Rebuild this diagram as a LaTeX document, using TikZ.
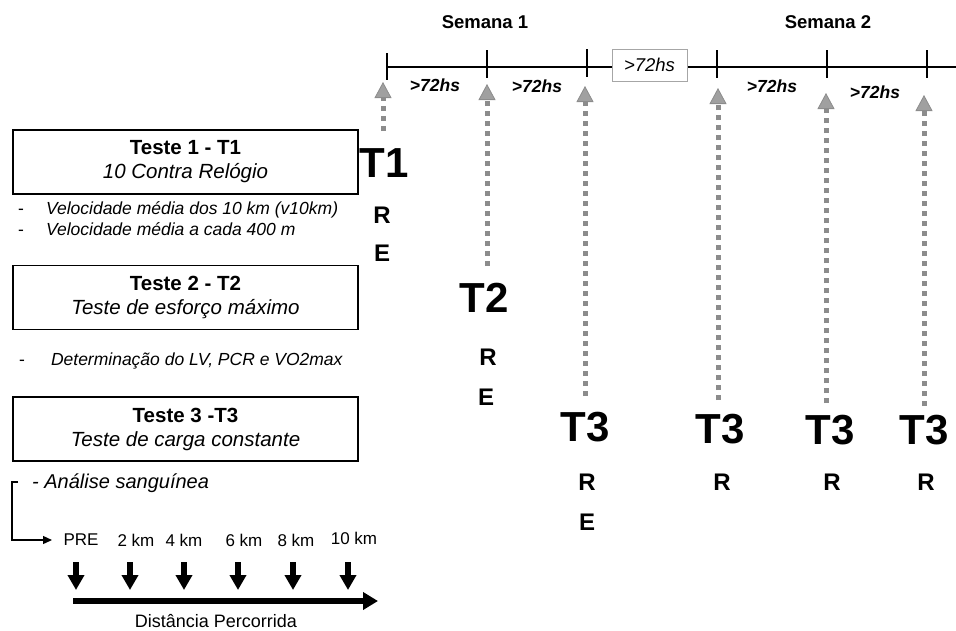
\documentclass[tikz,border=0pt]{standalone}
\usepackage{fontspec}
\setmainfont{Liberation Sans}
\usetikzlibrary{arrows.meta}
\definecolor{dotgray}{RGB}{140,140,140}
\definecolor{headgray}{RGB}{160,160,160}
\begin{document}
\begin{tikzpicture}[x=1pt,y=-1pt,
  tbig/.style={inner sep=0pt, font=\fontsize{42}{46}\selectfont\bfseries},
  rlab/.style={inner sep=0pt, font=\fontsize{24}{28}\selectfont\bfseries},
  hrs/.style={inner sep=0pt, font=\fontsize{17.5}{20}\selectfont\bfseries\itshape},
  week/.style={inner sep=0pt, font=\fontsize{18.5}{22}\selectfont\bfseries},
  testbox/.style={draw, line width=1.6pt, minimum width=345pt, minimum height=64pt, inner sep=0pt, align=center, font=\fontsize{20.5}{24}\selectfont},
  bullet/.style={inner sep=0pt, anchor=west, font=\fontsize{17.5}{20}\selectfont\itshape},
  km/.style={inner sep=0pt, font=\fontsize{17}{20}\selectfont},
  vdots/.style={dotgray, line width=5pt, dash pattern=on 5pt off 5pt, -{Triangle[width=17pt,length=16pt,line width=0.8pt,fill=headgray]}},
  tickmark/.style={line width=1.8pt},
  downarrow/.style={line width=5.5pt, -{Triangle[width=16pt,length=15pt]}},
]
\useasboundingbox (0,0) rectangle (956,630);

% weeks
\node[week] (sem1) at (485,22) {Semana 1};
\node[week] (sem2) at (828,22) {Semana 2};

% timeline
\coordinate (tlstart) at (387,67);
\coordinate (tlend) at (956,67);
\draw[line width=1.8pt] (tlstart) -- (tlend);
\coordinate (k1a) at (387,53); \coordinate (k1b) at (387,80);
\coordinate (k2a) at (487,50); \coordinate (k2b) at (487,78);
\coordinate (k3a) at (587,49); \coordinate (k3b) at (587,77);
\coordinate (k4a) at (717,50); \coordinate (k4b) at (717,78);
\coordinate (k5a) at (827,50); \coordinate (k5b) at (827,78);
\coordinate (k6a) at (927,50); \coordinate (k6b) at (927,78);
\foreach \k in {1,...,6} \draw[tickmark] (k\k a) -- (k\k b);

\node[hrs] (h1) at (435,85) {>72hs};
\node[hrs] (h2) at (537,86) {>72hs};
\node[draw=gray!70, line width=0.8pt, fill=white, minimum width=75pt, minimum height=32pt, inner sep=0pt,
      font=\fontsize{18.5}{22}\selectfont\itshape] (h3) at (649.5,65) {>72hs};
\node[hrs] (h4) at (772,86) {>72hs};
\node[hrs] (h5) at (875,92) {>72hs};

% test labels
\node[tbig] (t1) at (384,163) {T1};
\node[tbig] (t2) at (484,298) {T2};
\node[tbig] (t3a) at (585,427) {T3};
\node[tbig] (t3b) at (720,429) {T3};
\node[tbig] (t3c) at (830,430) {T3};
\node[tbig] (t3d) at (924,430) {T3};

\node[rlab] (r1) at (382,215) {R};
\node[rlab] (e1) at (382,253) {E};
\node[rlab] (r2) at (488,357) {R};
\node[rlab] (e2) at (486,397) {E};
\node[rlab] (r3a) at (587,482) {R};
\node[rlab] (e3a) at (587,522) {E};
\node[rlab] (r3b) at (722,482) {R};
\node[rlab] (r3c) at (832,482) {R};
\node[rlab] (r3d) at (926,482) {R};

% dotted arrows
\coordinate (a1b) at (383,131); \coordinate (a1t) at (383,82);
\coordinate (a2b) at (487,266); \coordinate (a2t) at (487,84);
\coordinate (a3b) at (585,396); \coordinate (a3t) at (585,86);
\coordinate (a4b) at (718,400); \coordinate (a4t) at (718,88);
\coordinate (a5b) at (826,403); \coordinate (a5t) at (826,93);
\coordinate (a6b) at (924,406); \coordinate (a6t) at (924,95);
\foreach \a in {1,...,6} \draw[vdots] (a\a b) -- (a\a t);

% left boxes
\node[testbox] (box1) at (185.5,162) {{\bfseries Teste 1 - T1}\\{\itshape 10 Contra Relógio}};
\node[bullet] (b1) at (18,210) {{\upshape -}\hspace{22pt}Velocidade média dos 10 km (v10km)};
\node[bullet] (b2) at (18,229) {{\upshape -}\hspace{22pt}Velocidade média a cada 400 m};

\node[testbox] (box2) at (185.5,297.5) {{\bfseries Teste 2 - T2}\\{\itshape Teste de esforço máximo}};
\node[bullet] (b3) at (19,361) {{\upshape -}\hspace{26pt}Determinação do LV, PCR e VO2max};

\node[testbox] (box3) at (185.5,429) {{\bfseries Teste 3 -T3}\\{\itshape Teste de carga constante}};

\node[inner sep=0pt, anchor=west, font=\fontsize{20}{24}\selectfont\itshape] (blood) at (32,483) {- Análise sanguínea};

% bracket
\coordinate (br0) at (18,482);
\coordinate (br1) at (12,482);
\coordinate (br2) at (12,540);
\coordinate (br3) at (52,540);
\draw[line width=1.3pt, -{Triangle[width=8pt,length=9pt]}] (br0) -- (br1) -- (br2) -- (br3);

% km labels
\node[km] (pre) at (81,540) {PRE};
\node[km] (km2) at (136,540) {2 km};
\node[km] (km4) at (184,540) {4 km};
\node[km] (km6) at (244,540) {6 km};
\node[km] (km8) at (296,540) {8 km};
\node[km] (km10) at (354,538) {10 km};

\coordinate (d1a) at (76,562); \coordinate (d1b) at (76,590);
\coordinate (d2a) at (130,562); \coordinate (d2b) at (130,590);
\coordinate (d3a) at (184,562); \coordinate (d3b) at (184,590);
\coordinate (d4a) at (238,562); \coordinate (d4b) at (238,590);
\coordinate (d5a) at (293,562); \coordinate (d5b) at (293,590);
\coordinate (d6a) at (348,562); \coordinate (d6b) at (348,590);
\foreach \d in {1,...,6} \draw[downarrow] (d\d a) -- (d\d b);

\coordinate (dist0) at (73,601);
\coordinate (dist1) at (378,601);
\draw[line width=6pt, -{Triangle[width=17pt,length=15pt]}] (dist0) -- (dist1);
\node[inner sep=0pt, font=\fontsize{18}{22}\selectfont] (distlab) at (216,621) {Distância Percorrida};
\end{tikzpicture}
\end{document}
